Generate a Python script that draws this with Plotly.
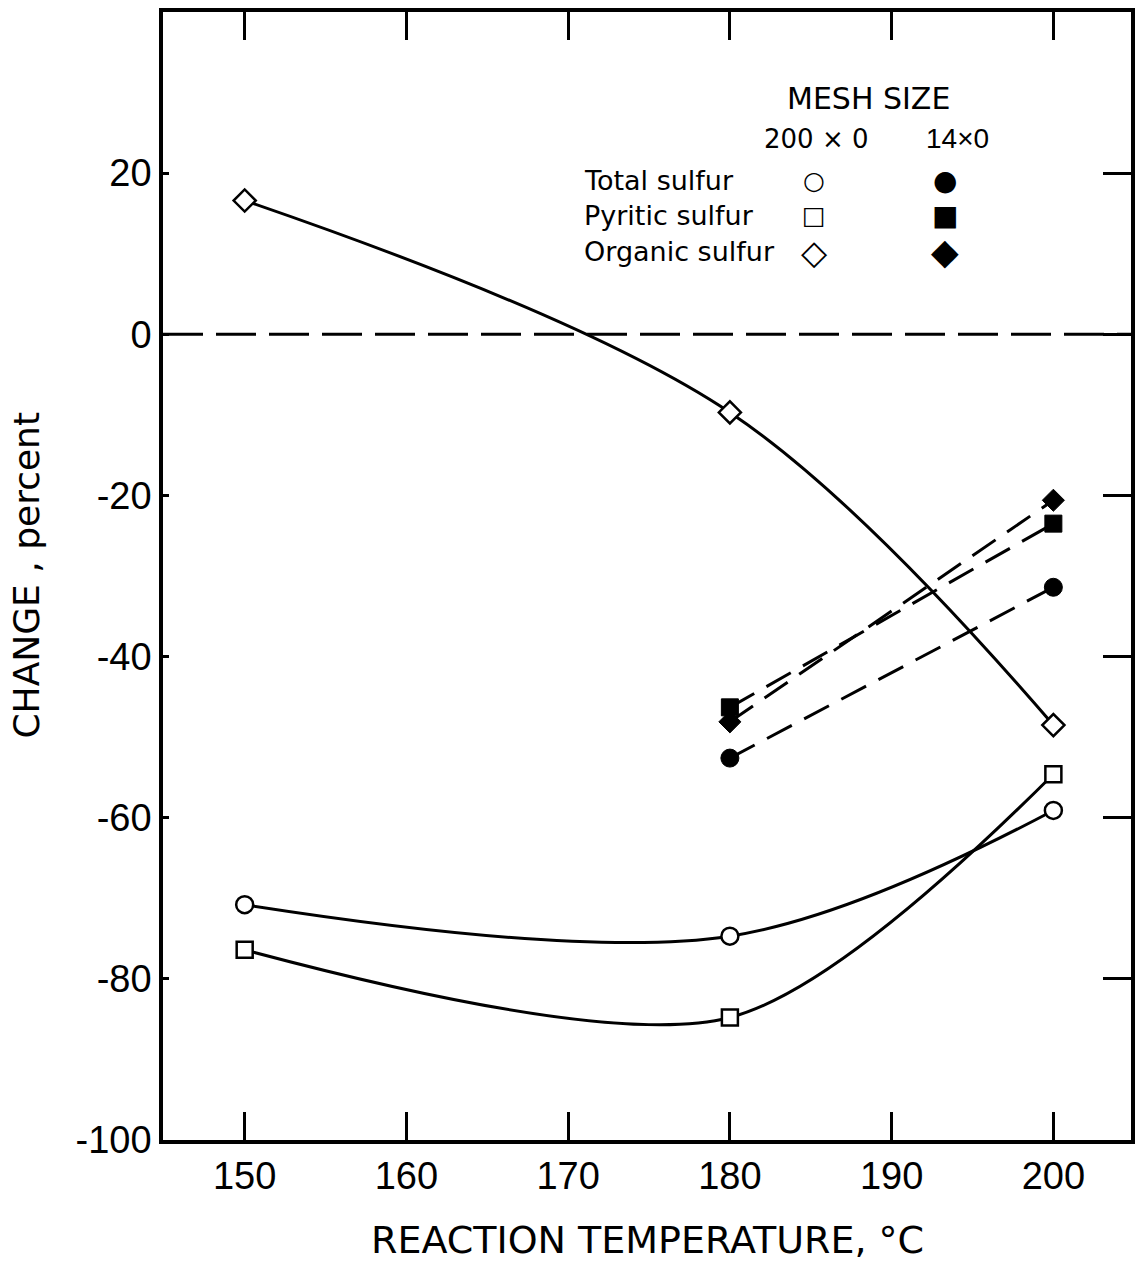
import plotly.graph_objects as go

# ---- data ----
temps_fine = [150, 180, 200]          # 200x0 mesh
total_fine = [-70.8, -74.7, -59.1]
pyritic_fine = [-76.4, -84.8, -54.6]
organic_fine = [16.6, -9.7, -48.5]

temps_coarse = [180, 200]             # 14x0 mesh
total_coarse = [-52.6, -31.4]
pyritic_coarse = [-46.3, -23.5]
organic_coarse = [-48.1, -20.6]

x_ticks = [150, 160, 170, 180, 190, 200]
x_ticktext = ["150", "160", "170", "180", "190", "200"]
y_ticks = [40, 20, 0, -20, -40, -60, -80, -100]
y_ticktext = ["40", "20", "0", "-20", "-40", "-60", "-80", "-100"]

BLACK = "black"
fig = go.Figure()

def solid(x, y, sym, size, smooth):
    fig.add_trace(go.Scatter(
        x=x, y=y, mode="lines+markers",
        line=dict(color=BLACK, width=3, shape="spline", smoothing=smooth),
        marker=dict(symbol=sym, size=size, color="white",
                    line=dict(color=BLACK, width=2.5)),
        showlegend=False, cliponaxis=False))

def dashed(x, y, sym, size):
    fig.add_trace(go.Scatter(
        x=x, y=y, mode="lines+markers",
        line=dict(color=BLACK, width=3, dash="28px,14px"),
        marker=dict(symbol=sym, size=size, color=BLACK,
                    line=dict(color=BLACK, width=1)),
        showlegend=False, cliponaxis=False, yaxis="y2"))

solid(temps_fine, organic_fine, "diamond", 17, 1.0)
solid(temps_fine, total_fine, "circle", 17, 1.0)
solid(temps_fine, pyritic_fine, "square", 16, 0.85)
dashed(temps_coarse, total_coarse, "circle", 18)
dashed(temps_coarse, pyritic_coarse, "square", 17)
dashed(temps_coarse, organic_coarse, "diamond", 17)

# zero reference line
fig.add_shape(type="line", xref="paper", x0=0, x1=1, yref="y", y0=0, y1=0,
              line=dict(color=BLACK, width=3, dash="40px,13px"))

tickfont = dict(family="Liberation Sans", size=38, color=BLACK)
fig.update_layout(
    width=1137, height=1263,
    margin=dict(l=163, r=2, t=12, b=123),
    paper_bgcolor="white", plot_bgcolor="white",
    xaxis=dict(range=[144.95, 204.8], tickvals=x_ticks, ticktext=x_ticktext,
               ticks="inside", ticklen=28, tickwidth=2.5, tickcolor=BLACK,
               showline=True, linewidth=3.5, linecolor=BLACK, mirror="ticks",
               showgrid=False, zeroline=False, tickfont=tickfont),
    yaxis=dict(range=[-100, 40], tickvals=y_ticks, ticktext=y_ticktext,
               ticks="inside", ticklen=6, tickwidth=2.5, tickcolor=BLACK,
               showline=True, linewidth=3.5, linecolor=BLACK, mirror=True,
               showgrid=False, zeroline=False, tickfont=tickfont),
    yaxis2=dict(range=[-100, 40], overlaying="y", side="right",
                tickvals=y_ticks, showticklabels=False,
                ticks="inside", ticklen=28, tickwidth=2.5, tickcolor=BLACK,
                showline=False, showgrid=False, zeroline=False),
    font=dict(family="DejaVu Sans", color=BLACK),
)

def px(xp):
    return (xp - 163) / 972.0

def py(yp):
    return 1 - (yp - 12) / 1128.0

ann = []
# axis titles
ann.append(dict(text="REACTION TEMPERATURE, °C", x=px(650), y=py(1240),
                xref="paper", yref="paper", showarrow=False,
                xanchor="center", yanchor="middle",
                font=dict(family="DejaVu Sans", size=38)))
ann.append(dict(text="CHANGE , percent", x=px(25), y=py(575),
                xref="paper", yref="paper", showarrow=False, textangle=-90,
                xanchor="center", yanchor="middle",
                font=dict(family="DejaVu Sans", size=36)))
# legend block
lf = dict(family="DejaVu Sans", size=27)
ann.append(dict(text="MESH SIZE", x=px(871), y=py(98), xref="paper", yref="paper",
                showarrow=False, xanchor="center", yanchor="middle",
                font=dict(family="DejaVu Sans", size=30)))
ann.append(dict(text="200 × 0", x=px(819), y=py(139), xref="paper", yref="paper",
                showarrow=False, xanchor="center", yanchor="middle",
                font=dict(family="DejaVu Sans", size=26)))
ann.append(dict(text="14×0", x=px(961), y=py(139), xref="paper", yref="paper",
                showarrow=False, xanchor="center", yanchor="middle",
                font=dict(family="Liberation Sans", size=28)))
rows = [("Total sulfur", "○", "●", 180, 25, 28),
        ("Pyritic sulfur", "□", "■", 215, 25, 28),
        ("Organic sulfur", "◇", "◆", 252, 34, 36)]
for label, o, f, yy, so, sf in rows:
    ann.append(dict(text=label, x=px(584), y=py(yy), xref="paper", yref="paper",
                    showarrow=False, xanchor="left", yanchor="middle", font=lf))
    ann.append(dict(text=o, x=px(817), y=py(yy), xref="paper", yref="paper",
                    showarrow=False, xanchor="center", yanchor="middle",
                    font=dict(family="DejaVu Sans", size=so)))
    ann.append(dict(text=f, x=px(948), y=py(yy), xref="paper", yref="paper",
                    showarrow=False, xanchor="center", yanchor="middle",
                    font=dict(family="DejaVu Sans", size=sf)))
fig.update_layout(annotations=ann)

fig.write_html("out.html")
